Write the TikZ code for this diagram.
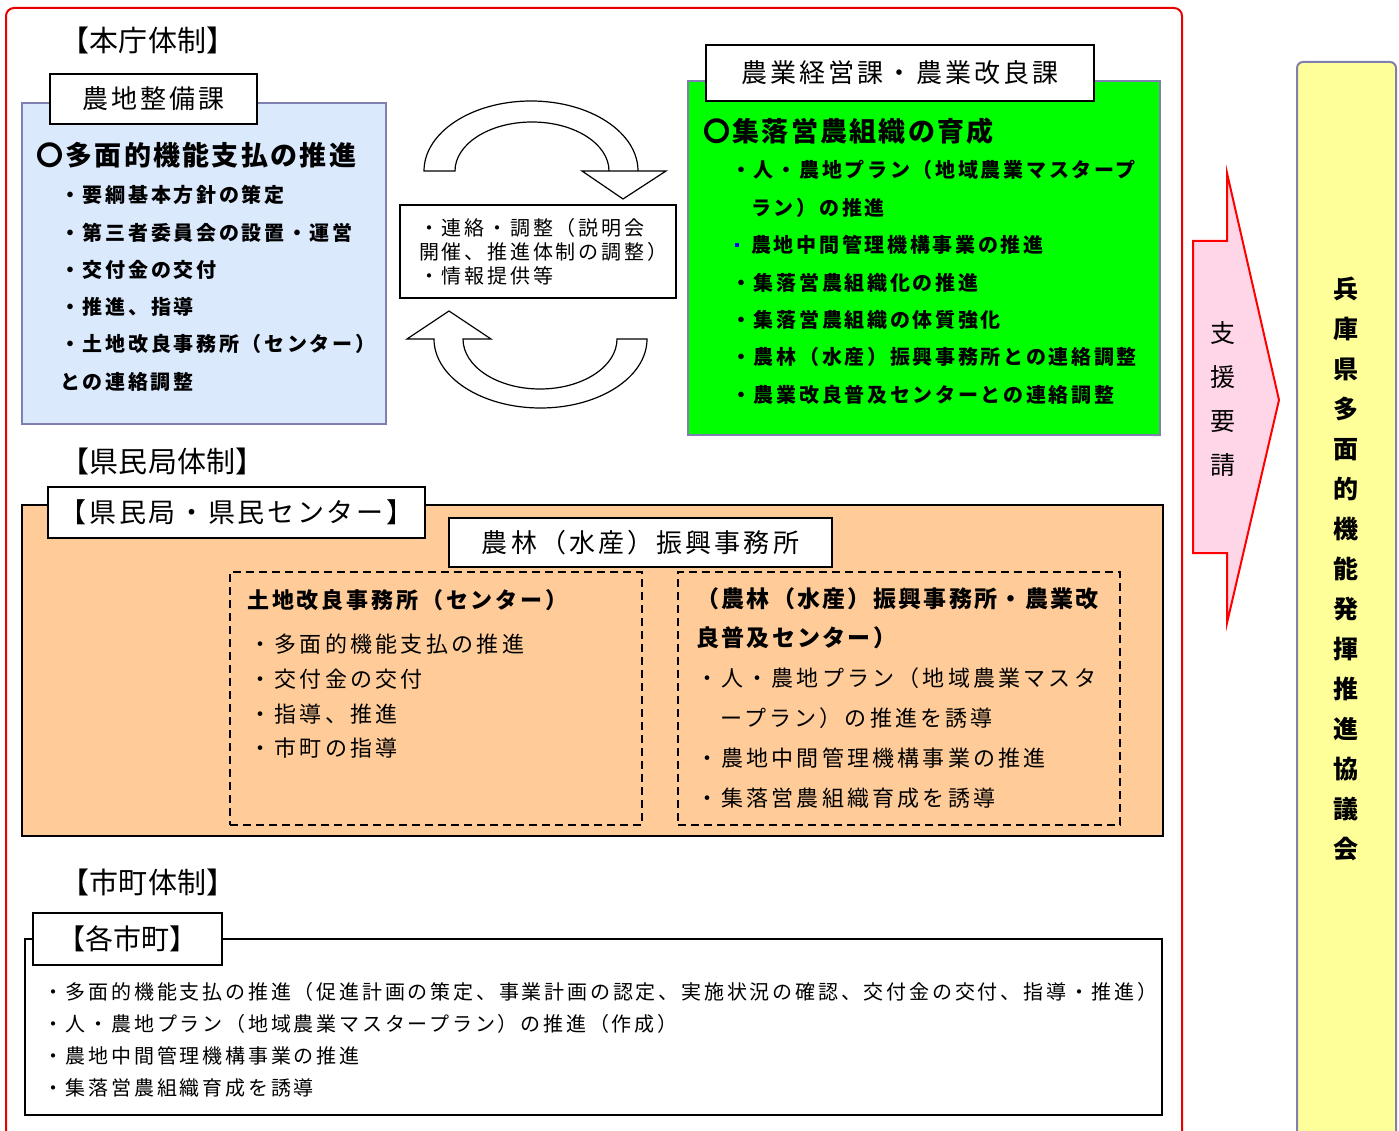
\documentclass[tikz,border=0pt]{standalone}
\usepackage{fontspec}
\setmainfont{Noto Sans CJK JP}
\newcommand\tf[2]{\fontsize{#1pt}{#1pt}\selectfont\addfontfeature{LetterSpace=#2}}
\definecolor{bluefill}{RGB}{218,233,252}
\definecolor{boxedge}{RGB}{128,128,176}
\definecolor{greenfill}{RGB}{0,255,0}
\definecolor{orangefill}{RGB}{255,204,153}
\definecolor{pinkfill}{RGB}{255,214,232}
\definecolor{yellowfill}{RGB}{255,255,153}
\definecolor{framered}{RGB}{230,0,0}
\begin{document}
\begin{tikzpicture}[x=1pt,y=-1pt,
  panel/.style={draw, inner sep=0pt, line width=2pt},
  labelbox/.style={draw=black, fill=white, line width=2pt, inner sep=0pt, font=\tf{26}{12}},
  dashbox/.style={draw=black, line width=2pt, dash pattern=on 8pt off 5pt, inner sep=0pt},
  txt/.style={anchor=west, inner sep=0pt},
  head/.style={txt, font=\tf{29}{1}},
  bigb/.style={txt, font=\bfseries\tf{27}{8.5}},
  itemb/.style={txt, font=\bfseries\tf{20}{13.5}},
  uarrow/.style={draw=black, fill=white, line width=1.2pt, line join=miter}
]
\useasboundingbox (0,0) rectangle (1399,1131);
% outer red frame
\draw[framered, line width=2pt, rounded corners=8pt] (6,1140) -- (6,8) -- (1182,8) -- (1182,1140);

% headings
\node[head] (h1) at (60,40) {【本庁体制】};
\node[head] (h2) at (60,461) {【県民局体制】};
\node[head] (h3) at (60,882) {【市町体制】};

% blue panel
\node[panel, draw=boxedge, fill=bluefill, minimum width=364pt, minimum height=321pt] (blue) at (204,263.5) {};
\node[labelbox, minimum width=207pt, minimum height=50pt] (lblue) at (153.5,99) {\raisebox{-3pt}{農地整備課}};
\node[bigb] (b0) at (36,155) {〇多面的機能支払の推進};
\node[itemb] (b1) at (60,195) {・要綱基本方針の策定};
\node[itemb] (b2) at (60,233) {・第三者委員会の設置・運営};
\node[itemb] (b3) at (60,270) {・交付金の交付};
\node[itemb] (b4) at (60,307) {・推進、指導};
\node[itemb] (b5) at (60,344) {・土地改良事務所（センター）};
\node[itemb] (b6) at (60,382) {との連絡調整};

% middle box and U-turn arrows
\node[draw=black, line width=1.5pt, fill=white, minimum width=276pt, minimum height=93pt] (mid) at (538,251.5) {};
\node[txt, font=\tf{20}{14}] (m1) at (419,228) {・連絡・調整（説明会};
\node[txt, font=\tf{20}{14}] (m2) at (419,252) {開催、推進体制の調整）};
\node[txt, font=\tf{20}{14}] (m3) at (419,276) {・情報提供等};
\draw[uarrow] (455,171) -- (424,171) arc[start angle=180, end angle=360, x radius=107, y radius=70]
  -- (582,171) -- (623,199) -- (666,171) -- (609,171)
  arc[start angle=360, end angle=180, x radius=77, y radius=49] -- cycle;
\draw[uarrow] (647,339) -- (617,339) arc[start angle=0, end angle=180, x radius=77, y radius=50]
  -- (491,339) -- (449,311) -- (407,339) -- (434,339)
  arc[start angle=180, end angle=0, x radius=106.5, y radius=69] -- cycle;

% green panel
\node[panel, draw=boxedge, fill=greenfill, minimum width=472pt, minimum height=354pt] (green) at (924,258) {};
\node[labelbox, minimum width=388pt, minimum height=56pt] (lgreen) at (900,73) {農業経営課・農業改良課};
\node[bigb] (g0) at (703,131) {〇集落営農組織の育成};
\node[itemb] (g1) at (731,170) {・人・農地プラン（地域農業マスタープ};
\node[itemb] (g1b) at (751,208) {ラン）の推進};
\node[fill=blue, inner sep=0pt, minimum size=4pt] (gdot) at (737,245) {};
\node[itemb] (g2) at (751,245) {農地中間管理機構事業の推進};
\node[itemb] (g3) at (731,283) {・集落営農組織化の推進};
\node[itemb] (g4) at (731,320) {・集落営農組織の体質強化};
\node[itemb] (g5) at (731,357) {・農林（水産）振興事務所との連絡調整};
\node[itemb] (g6) at (731,395) {・農業改良普及センターとの連絡調整};

% orange panel
\node[panel, draw=black, fill=orangefill, minimum width=1141pt, minimum height=331pt] (orange) at (592.5,670.5) {};
\node[labelbox, minimum width=377pt, minimum height=51pt, font=\tf{27}{10}] (lor1) at (236.5,512.5) {【県民局・県民センター】};
\node[labelbox, minimum width=383pt, minimum height=49pt] (lor2) at (640.5,542.5) {\raisebox{-2pt}{農林（水産）振興事務所}};
\node[dashbox, minimum width=412pt, minimum height=253pt] (d1) at (436,698.5) {};
\node[dashbox, minimum width=442pt, minimum height=253pt] (d2) at (899,698.5) {};
\node[txt, font=\bfseries\tf{22}{13}] (d1t) at (247,600) {土地改良事務所（センター）};
\node[txt, font=\tf{22}{15}] (d1a) at (249,644) {・多面的機能支払の推進};
\node[txt, font=\tf{22}{15}] (d1b) at (249,679) {・交付金の交付};
\node[txt, font=\tf{22}{15}] (d1c) at (249,714) {・指導、推進};
\node[txt, font=\tf{22}{15}] (d1d) at (249,748) {・市町の指導};
\node[txt, font=\bfseries\tf{23}{10}] (d2t) at (696,599) {（農林（水産）振興事務所・農業改};
\node[txt, font=\bfseries\tf{23}{10}] (d2u) at (696,638) {良普及センター）};
\node[txt, font=\tf{22}{14.5}] (d2a) at (696,678) {・人・農地プラン（地域農業マスタ};
\node[txt, font=\tf{22}{14.5}] (d2b) at (720,718) {ープラン）の推進を誘導};
\node[txt, font=\tf{22}{14.5}] (d2c) at (696,758) {・農地中間管理機構事業の推進};
\node[txt, font=\tf{22}{14.5}] (d2d) at (696,798) {・集落営農組織育成を誘導};

% municipal panel
\node[panel, draw=black, fill=white, minimum width=1137pt, minimum height=176pt] (city) at (593.5,1027) {};
\node[labelbox, minimum width=189pt, minimum height=52pt, font=\tf{28}{0}] (lcity) at (127.5,939) {【各市町】};
\node[txt, font=\tf{20}{14}] (c1) at (43,992) {・多面的機能支払の推進（促進計画の策定、事業計画の認定、実施状況の確認、交付金の交付、指導・推進）};
\node[txt, font=\tf{20}{14}] (c2) at (43,1024) {・人・農地プラン（地域農業マスタープラン）の推進（作成）};
\node[txt, font=\tf{20}{14}] (c3) at (43,1056) {・農地中間管理機構事業の推進};
\node[txt, font=\tf{20}{14}] (c4) at (43,1088) {・集落営農組織育成を誘導};

% support request arrow
\draw[draw=red, fill=pinkfill, line width=2pt, line join=miter]
  (1193,241) -- (1227,241) -- (1227,173) -- (1279,400) -- (1227,623) -- (1227,553) -- (1193,553) -- cycle;
\node[align=center, inner sep=0pt, font=\fontsize{25pt}{44pt}\selectfont] (req) at (1223,399) {支\\援\\要\\請};

% council box
\draw[draw=boxedge, fill=yellowfill, line width=2pt, rounded corners=6pt] (1297,1145) -- (1297,62) -- (1396,62) -- (1396,1145);
\node[align=center, inner sep=0pt, font=\bfseries\fontsize{25pt}{40pt}\selectfont] (council) at (1346,569)
  {兵\\庫\\県\\多\\面\\的\\機\\能\\発\\揮\\推\\進\\協\\議\\会};
\end{tikzpicture}
\end{document}
